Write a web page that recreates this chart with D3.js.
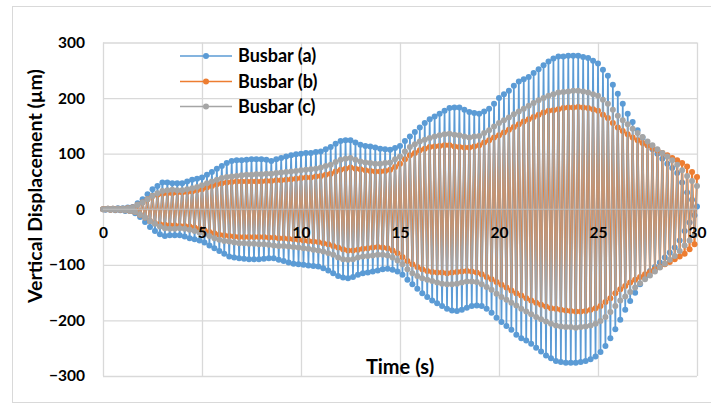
<!DOCTYPE html>
<html><head><meta charset="utf-8">
<script src="https://cdn.jsdelivr.net/npm/d3@7"></script>
<style>body{margin:0;background:#fff}text{font-family:Lato,"Open Sans",sans-serif;font-weight:700;fill:#000}</style>
</head><body><svg id="c" width="711" height="405"></svg>
<script>
// ---- data ----
const seriesNames = ["Busbar (a)", "Busbar (b)", "Busbar (c)"];
const timeStep = 0.125; // seconds between successive samples (peaks)
const busbarA = [
0,-1,1,-1, 1,-2,2,-2, 2,-3,3,-3, 4,-7,11,-14, 18,-23,27,-32, 36,-39,42,-45,
48,-48,48,-47, 47,-47,47,-47, 47,-49,50,-52, 53,-54,55,-56, 57,-60,62,-65, 67,-70,73,-75,
78,-80,83,-85, 87,-87,88,-88, 88,-89,89,-90, 90,-90,90,-90, 90,-89,89,-88, 87,-88,90,-91,
92,-93,95,-96, 97,-98,99,-99, 100,-100,101,-101, 101,-102,103,-103, 104,-106,108,-110, 112,-115,118,-120,
123,-123,124,-124, 124,-122,120,-118, 116,-115,114,-114, 113,-112,111,-110, 109,-108,108,-107, 107,-109,110,-112,
114,-118,123,-127, 131,-135,139,-143, 147,-151,155,-158, 162,-164,167,-169, 172,-174,177,-179, 182,-182,183,-183,
183,-181,179,-177, 175,-174,173,-173, 172,-174,176,-179, 181,-186,190,-195, 200,-203,207,-210, 213,-217,222,-226,
230,-232,234,-236, 238,-242,245,-249, 252,-256,259,-263, 266,-268,271,-273, 275,-275,275,-276, 276,-276,276,-276,
276,-275,274,-273, 272,-270,267,-265, 262,-257,251,-246, 240,-232,224,-216, 208,-199,190,-181, 172,-165,157,-150,
142,-135,129,-122, 115,-111,108,-104, 100,-96,91,-87, 82,-78,74,-69, 65,-56,48,-39, 30,-24,17,-11,
5];
const busbarB = [
0,0,1,-1, 1,-1,1,-1, 1,-2,2,-3, 3,-5,8,-10, 12,-15,18,-21, 24,-25,26,-27,
28,-28,29,-29, 29,-29,30,-30, 30,-30,31,-31, 32,-33,34,-35, 36,-38,39,-41, 42,-43,45,-46,
47,-47,48,-48, 49,-49,50,-50, 50,-50,50,-50, 50,-50,50,-50, 50,-50,51,-51, 51,-51,52,-52,
52,-52,53,-53, 54,-54,55,-55, 56,-56,57,-57, 57,-58,59,-59, 60,-61,62,-63, 64,-66,68,-69,
71,-72,73,-74, 75,-74,73,-73, 72,-71,70,-70, 69,-69,68,-68, 68,-69,69,-70, 71,-74,76,-79,
82,-86,90,-93, 97,-99,101,-104, 106,-108,109,-111, 112,-113,113,-114, 114,-114,115,-115, 115,-114,113,-113,
112,-112,111,-111, 111,-112,113,-114, 115,-117,120,-122, 124,-126,129,-131, 133,-136,138,-141, 143,-146,148,-151,
153,-155,158,-160, 162,-164,166,-168, 170,-172,174,-175, 177,-178,178,-179, 180,-181,182,-182, 183,-183,183,-184,
184,-184,183,-183, 182,-181,180,-178, 177,-174,170,-167, 164,-160,155,-151, 147,-144,141,-138, 135,-132,129,-127,
124,-122,119,-117, 115,-113,110,-108, 106,-104,101,-99, 97,-95,92,-90, 88,-85,83,-80, 77,-72,67,-63,
58];
const busbarC = [
0,0,1,-1, 1,-1,1,-1, 1,-2,2,-3, 3,-5,8,-10, 12,-15,18,-21, 24,-26,29,-31,
33,-34,34,-35, 35,-35,34,-34, 34,-35,36,-37, 38,-39,40,-42, 43,-45,47,-48, 50,-52,53,-55,
56,-57,58,-58, 59,-60,60,-61, 61,-61,62,-62, 62,-62,63,-63, 63,-63,64,-64, 64,-65,65,-66,
66,-66,67,-67, 68,-68,69,-69, 70,-70,71,-71, 72,-73,73,-74, 75,-76,78,-79, 80,-82,85,-87,
89,-90,91,-91, 92,-90,89,-87, 86,-85,84,-84, 83,-83,82,-82, 82,-82,83,-83, 84,-87,90,-92,
95,-99,104,-108, 112,-115,117,-120, 122,-124,125,-127, 128,-129,131,-132, 133,-134,135,-135, 136,-135,134,-134,
133,-132,131,-130, 129,-130,131,-131, 132,-135,137,-140, 142,-145,149,-152, 155,-158,160,-163, 165,-168,171,-173,
176,-179,181,-184, 186,-189,191,-194, 196,-198,200,-202, 204,-206,207,-209, 210,-211,211,-212, 212,-212,213,-213,
213,-212,212,-211, 210,-209,207,-206, 204,-201,197,-194, 190,-185,179,-174, 168,-164,160,-157, 153,-149,145,-141,
137,-133,130,-126, 122,-119,115,-112, 108,-105,101,-98, 95,-91,88,-84, 80,-75,70,-65, 60,-56,51,-47,
42];
const xTickValues = [0, 5, 10, 15, 20, 25, 30];
const yTickValues = [-300, -200, -100, 0, 100, 200, 300];
const axisTitleX = "Time (s)";
const axisTitleY = "Vertical Displacement (µm)";

// ---- drawing ----
const colors = ["#5B9BD5", "#ED7D31", "#A5A5A5"];
const lineWidths = [1.7, 2.0, 1.2];
const series = [busbarA, busbarB, busbarC];
const svg = d3.select("#c");
const x = d3.scaleLinear().domain([0, 30]).range([103, 697]);
const y = d3.scaleLinear().domain([-300, 300]).range([376, 42.5]);

// outer chart border
svg.append("rect").attr("x", 12.5).attr("y", 6.5).attr("width", 710).attr("height", 396)
  .attr("fill", "#fff").attr("stroke", "#D9D9D9").attr("stroke-width", 1);

// gridlines
const gy = svg.append("g").attr("transform", `translate(${x(0)},0)`)
  .call(d3.axisLeft(y).tickValues(yTickValues).tickSize(-(x(30) - x(0))).tickFormat(""));
gy.select(".domain").remove();
gy.selectAll("line").attr("stroke", "#D9D9D9").attr("stroke-width", 1.3);
const gx = svg.append("g").attr("transform", `translate(0,${y(-300)})`)
  .call(d3.axisBottom(x).tickValues(xTickValues).tickSize(-(y(-300) - y(300))).tickFormat(""));
gx.select(".domain").remove();
gx.selectAll("line").attr("stroke", "#D9D9D9").attr("stroke-width", 1.3);

// series
const line = d3.line().x((d, i) => x(i * timeStep)).y(d => y(d));
series.forEach((data, k) => {
  const g = svg.append("g");
  g.append("path").datum(data).attr("d", line).attr("fill", "none")
    .attr("stroke", colors[k]).attr("stroke-width", lineWidths[k]).attr("stroke-linejoin", "round");
  g.selectAll("circle").data(data).join("circle")
    .attr("cx", (d, i) => x(i * timeStep)).attr("cy", d => y(d)).attr("r", 3)
    .attr("fill", colors[k]);
});

// zero axis line
svg.append("line").attr("x1", x(0)).attr("x2", x(30)).attr("y1", y(0)).attr("y2", y(0))
  .attr("stroke", "#BFBFBF").attr("stroke-width", 1);

// axis labels
const ay = svg.append("g").attr("transform", `translate(${x(0)},0)`)
  .call(d3.axisLeft(y).tickValues(yTickValues).tickSize(0).tickPadding(18));
ay.select(".domain").remove();
ay.selectAll("text").style("font-size", "15.5px").style("font-family", "Lato").style("font-weight", 700).attr("fill", "#000");
const ax = svg.append("g").attr("transform", `translate(0,${y(0)})`)
  .call(d3.axisBottom(x).tickValues(xTickValues).tickSize(0).tickPadding(18));
ax.select(".domain").remove();
ax.selectAll("text").style("font-size", "15.5px").style("font-family", "Lato").style("font-weight", 700).attr("fill", "#000");

// axis titles
svg.append("text").attr("x", 400).attr("y", 374).attr("text-anchor", "middle")
  .style("font-size", "20px").text(axisTitleX);
svg.append("text").attr("transform", "translate(42,186) rotate(-90)").attr("text-anchor", "middle")
  .style("font-size", "19.5px").text(axisTitleY);

// legend
const legY = [56, 81.5, 106.5];
seriesNames.forEach((name, k) => {
  const g = svg.append("g");
  g.append("line").attr("x1", 180).attr("x2", 232).attr("y1", legY[k]).attr("y2", legY[k])
    .attr("stroke", colors[k]).attr("stroke-width", 1.5);
  g.append("circle").attr("cx", 206).attr("cy", legY[k]).attr("r", 3).attr("fill", colors[k]);
  g.append("text").attr("x", 238).attr("y", legY[k]).attr("dy", "0.36em")
    .style("font-size", "18px").text(name);
});
</script></body></html>
